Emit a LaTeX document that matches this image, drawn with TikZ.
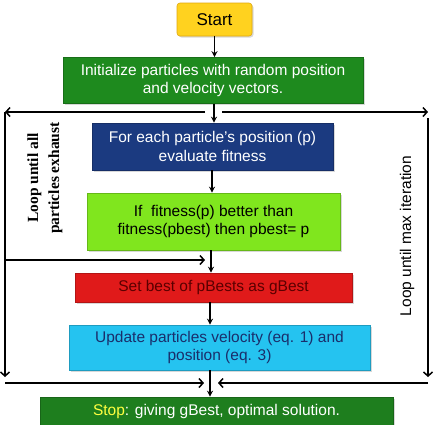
\documentclass[tikz,border=0pt]{standalone}
\usepackage{fontspec}
\setmainfont{Liberation Sans}
\newfontfamily\serifbold{Liberation Serif}
\usetikzlibrary{arrows.meta,shadows}
\definecolor{startfill}{HTML}{FFD21F}
\definecolor{startdraw}{HTML}{E0A810}
\definecolor{initgreen}{HTML}{1E8A1E}
\definecolor{navybox}{HTML}{1B3A80}
\definecolor{limebox}{HTML}{80E61E}
\definecolor{redbox}{HTML}{E01A1A}
\definecolor{redtext}{HTML}{5A0000}
\definecolor{cyanbox}{HTML}{25C3F0}
\definecolor{cyantext}{HTML}{1A2E6B}
\definecolor{stopgreen}{HTML}{1E7E1E}
\definecolor{stopyellow}{HTML}{FFFF40}
\tikzset{
  box/.style={draw=#1!80!black, fill=#1, line width=0.6pt, inner sep=2pt, align=center,
    font=\fontsize{15.5}{18.5}\selectfont,
    drop shadow={opacity=0.3, shadow xshift=1.5pt, shadow yshift=-1.5pt}},
  small/.style={line width=1.5pt, -{Stealth[length=6pt,width=6pt]}},
  long/.style={line width=1.5pt, -{Straight Barb[length=4pt,width=9pt,line width=1.5pt]}},
}
\begin{document}
\begin{tikzpicture}[x=1pt,y=-1pt]
\useasboundingbox (0,0) rectangle (437,424);
\fill[white] (0,0) rectangle (437,424);
\node[box=startfill, draw=startdraw, rounded corners=3pt, minimum width=75pt, minimum height=33pt, font=\fontsize{17}{20}\selectfont] (start) at (214.5,19.5) {Start};
\node[box=initgreen, text=white, minimum width=300pt, minimum height=46pt] (init) at (213,80.5) {Initialize particles with random position\\and velocity vectors.};
\node[box=navybox, text=white, minimum width=241pt, minimum height=47pt] (eval) at (212.5,146.5) {For each particle's position (p)\\evaluate fitness};
\node[box=limebox, text=black, minimum width=253pt, minimum height=57pt] (pbest) at (213.5,221.5) {If \ fitness(p) better than\\fitness(pbest) then pbest= p};
\node[box=redbox, text=redtext, minimum width=277pt, minimum height=29pt] (gbest) at (213.5,287.5) {Set best of pBests as gBest};
\node[box=cyanbox, text=cyantext, minimum width=301pt, minimum height=45pt] (update) at (219.5,347.5) {Update particles velocity (eq. 1) and\\position (eq. 3)};
\node[box=stopgreen, text=white, minimum width=353pt, minimum height=28pt] (stop) at (216.5,411) {\textcolor{stopyellow}{Stop}: giving gBest, optimal solution.};

% labels
\node[rotate=90, align=center, font=\serifbold\bfseries\fontsize{15.5}{21}\selectfont] (lloop) at (45,178) {Loop until all\\particles exhaust};
\node[rotate=90, font=\fontsize{15.5}{18}\selectfont] (rloop) at (407,236) {Loop until max iteration};

% coordinates
\coordinate (tl) at (5,112);
\coordinate (tla) at (205,112);
\coordinate (tra) at (222,112);
\coordinate (tr) at (428,112);
\coordinate (rtop) at (428,118);
\coordinate (rbot) at (428,377);
\coordinate (lbot) at (5,377);
\coordinate (mid) at (5,260);
\coordinate (mida) at (205,260);
\coordinate (bl) at (5,383);
\coordinate (bla) at (204,383);
\coordinate (br) at (428,383);
\coordinate (bra) at (218,383);

% vertical flow arrows
\draw[small] (start.south) -- (start.south |- init.north);
\draw[small] (init.south -| 214,0) -- (eval.north -| 214,0);
\draw[small] (eval.south -| 212,0) -- (pbest.north -| 212,0);
\draw[small] (pbest.south -| 211,0) -- (gbest.north -| 211,0);
\draw[small] (gbest.south -| 210,0) -- (update.north -| 210,0);
\draw[small] (update.south -| 210,0) -- (stop.north -| 210,0);

% loop lines
\draw[long] (tla) -- (tl);
\draw[long] (tra) -- (tr);
\draw[long] (tl) -- (lbot);
\draw[long] (rtop) -- (rbot);
\draw[long] (mid) -- (mida);
\draw[long] (bl) -- (bla);
\draw[long] (br) -- (bra);
\end{tikzpicture}
\end{document}
